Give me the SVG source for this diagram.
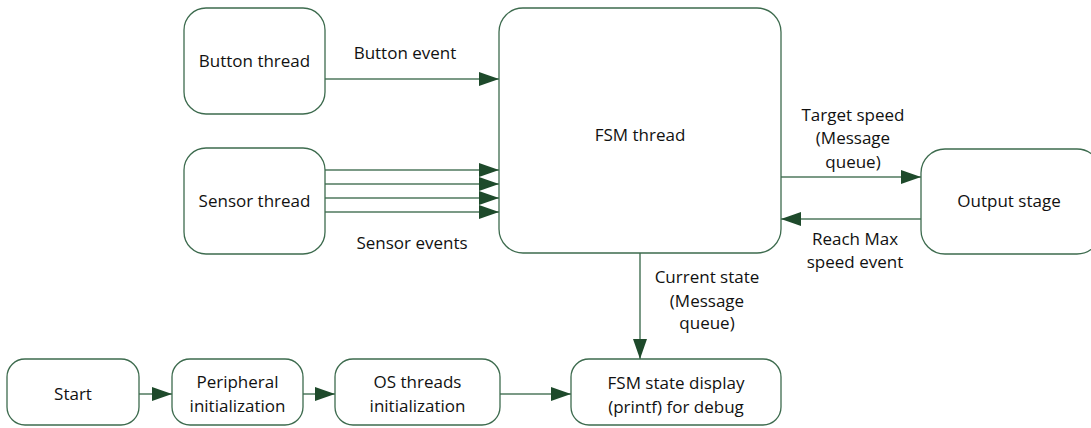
<svg xmlns="http://www.w3.org/2000/svg" width="1091" height="428" viewBox="0 0 1091 428">
<style>
.box{fill:#fff;stroke:#3d6b4e;stroke-width:1.3}
.t{font-family:"Open Sans","Liberation Sans",sans-serif;font-size:17px;fill:#111;text-anchor:middle}
.c{stroke:#7b9a86;stroke-width:2;fill:none}
</style>
<defs>
<marker id="ah" markerWidth="20" markerHeight="14" refX="20" refY="7" orient="auto" markerUnits="userSpaceOnUse">
<path d="M0,0 L20,7 L0,14 Z" fill="#1e4a2b"/>
</marker>
</defs>
<rect width="1091" height="428" fill="#fff"/>
<g id="connectors">
<line class="c" x1="325" y1="79" x2="499" y2="79" marker-end="url(#ah)"/>
<line class="c" x1="325" y1="170" x2="499" y2="170" marker-end="url(#ah)"/>
<line class="c" x1="325" y1="184" x2="499" y2="184" marker-end="url(#ah)"/>
<line class="c" x1="325" y1="198" x2="499" y2="198" marker-end="url(#ah)"/>
<line class="c" x1="325" y1="212" x2="499" y2="212" marker-end="url(#ah)"/>
<line class="c" x1="781" y1="177" x2="921" y2="177" marker-end="url(#ah)"/>
<line class="c" x1="921" y1="219" x2="781" y2="219" marker-end="url(#ah)"/>
<line class="c" x1="640" y1="253" x2="640" y2="359" marker-end="url(#ah)"/>
<line class="c" x1="139" y1="394" x2="172" y2="394" marker-end="url(#ah)"/>
<line class="c" x1="303" y1="394" x2="335" y2="394" marker-end="url(#ah)"/>
<line class="c" x1="500" y1="394" x2="571" y2="394" marker-end="url(#ah)"/>
<text class="t" x="405" y="59">Button event</text>
<text class="t" x="412" y="249">Sensor events</text>
<text class="t" x="853" y="121">Target speed</text>
<text class="t" x="853" y="144">(Message</text>
<text class="t" x="853" y="168">queue)</text>
<text class="t" x="855" y="245">Reach Max</text>
<text class="t" x="855" y="268">speed event</text>
<text class="t" x="707" y="283">Current state</text>
<text class="t" x="707" y="307">(Message</text>
<text class="t" x="707" y="329">queue)</text>
</g>
<g id="button-thread">
<rect class="box" x="184" y="8" width="141" height="106" rx="22"/>
<text class="t" x="254.5" y="67">Button thread</text>
</g>
<g id="sensor-thread">
<rect class="box" x="184" y="148" width="141" height="106" rx="22"/>
<text class="t" x="254.5" y="207">Sensor thread</text>
</g>
<g id="fsm-thread">
<rect class="box" x="499" y="8" width="282" height="245" rx="24"/>
<text class="t" x="640" y="141">FSM thread</text>
</g>
<g id="output-stage">
<rect class="box" x="921" y="149" width="180" height="105" rx="24"/>
<text class="t" x="1009" y="207">Output stage</text>
</g>
<g id="start">
<rect class="box" x="7" y="359" width="132" height="66" rx="18"/>
<text class="t" x="73" y="400">Start</text>
</g>
<g id="peripheral-init">
<rect class="box" x="172" y="359" width="131" height="66" rx="18"/>
<text class="t" x="237.5" y="388">Peripheral</text>
<text class="t" x="237.5" y="412">initialization</text>
</g>
<g id="os-threads-init">
<rect class="box" x="335" y="359" width="165" height="66" rx="18"/>
<text class="t" x="417.5" y="388">OS threads</text>
<text class="t" x="417.5" y="412">initialization</text>
</g>
<g id="fsm-display">
<rect class="box" x="571" y="359" width="210" height="66" rx="18"/>
<text class="t" x="676" y="389">FSM state display</text>
<text class="t" x="676" y="413">(printf) for debug</text>
</g>
</svg>
